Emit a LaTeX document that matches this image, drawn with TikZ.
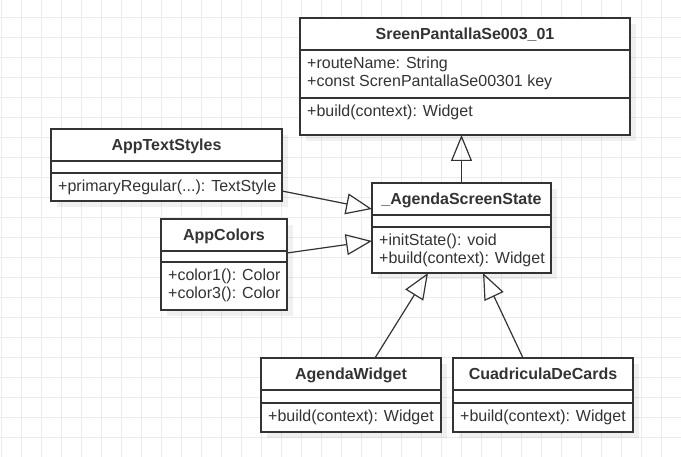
\documentclass[tikz,border=0pt]{standalone}
\usepackage{fontspec}
\setmainfont{Liberation Sans}
\usetikzlibrary{arrows.meta,shadows}
\definecolor{umlline}{HTML}{333333}
\definecolor{gridgray}{HTML}{EBEBEB}

\begin{document}
\begin{tikzpicture}[
		x=1pt, y=-1pt,
		every node/.style={
			font=\fontsize{16}{18.5}\selectfont,
			text=umlline
		},
		classbox/.style={
			draw=umlline, line width=1.2pt, fill=white,
			anchor=north west, inner sep=0pt, outer sep=0pt,
			drop shadow={shadow xshift=6pt, shadow yshift=-6pt, opacity=0.06, fill=black}
		},
		classtitle/.style={font=\fontsize{16}{18.5}\selectfont\bfseries, anchor=base, inner sep=0pt},
		member/.style={anchor=base west, align=left, inner sep=0pt},
		divider/.style={draw=umlline, line width=1.2pt},
		inherit/.style={draw=umlline, line width=1.2pt, -{Triangle[open, length=26pt, width=21pt]}},
		gridline/.style={draw=gridgray, line width=1pt}
		]
		
		\useasboundingbox (0,0) rectangle (681,457);
		
		% background grid
		\foreach \gx in {1,21,...,681} \draw[gridline] (\gx,0) -- (\gx,457);
		\foreach \gy in {18,38,...,457} \draw[gridline] (0,\gy) -- (681,\gy);
		
		% SreenPantallaSe003_01
		\node[classbox, minimum width=330pt, minimum height=117pt] (screen) at (300,18) {};
		\node[classtitle] at ([yshift=-22pt]screen.north) {SreenPantallaSe003\_01};
		\draw[divider] ([yshift=-32pt]screen.north west) -- ([yshift=-32pt]screen.north east);
		\draw[divider] ([yshift=-80pt]screen.north west) -- ([yshift=-80pt]screen.north east);
		% two lines: base is the last line
		\node[member] at ([shift={(7pt,-69pt)}]screen.north west)
		{+routeName: String\\+const ScrenPantallaSe00301 key};
		\node[member] at ([shift={(7pt,-98.5pt)}]screen.north west) {+build(context): Widget};
		
		% AppTextStyles
		\node[classbox, minimum width=231pt, minimum height=72pt] (textstyles) at (51,129) {};
		\node[classtitle] at ([yshift=-22pt]textstyles.north) {AppTextStyles};
		\draw[divider] ([yshift=-32pt]textstyles.north west) -- ([yshift=-32pt]textstyles.north east);
		\draw[divider] ([yshift=-44pt]textstyles.north west) -- ([yshift=-44pt]textstyles.north east);
		\node[member] at ([shift={(7pt,-62.5pt)}]textstyles.north west) {+primaryRegular(...): TextStyle};
		
		% AppColors
		\node[classbox, minimum width=126pt, minimum height=91pt] (colors) at (161,219) {};
		\node[classtitle] at ([yshift=-22pt]colors.north) {AppColors};
		\draw[divider] ([yshift=-32pt]colors.north west) -- ([yshift=-32pt]colors.north east);
		\draw[divider] ([yshift=-43pt]colors.north west) -- ([yshift=-43pt]colors.north east);
		\node[member] at ([shift={(7pt,-80pt)}]colors.north west) {+color1(): Color\\+color3(): Color};
		
		% _AgendaScreenState
		\node[classbox, minimum width=179pt, minimum height=90pt] (state) at (372,183) {};
		\node[classtitle] at ([yshift=-22pt]state.north) {\_AgendaScreenState};
		\draw[divider] ([yshift=-32pt]state.north west) -- ([yshift=-32pt]state.north east);
		\draw[divider] ([yshift=-44pt]state.north west) -- ([yshift=-44pt]state.north east);
		\node[member] at ([shift={(7pt,-81pt)}]state.north west)
		{+initState(): void\\+build(context): Widget};
		
		% AgendaWidget
		\node[classbox, minimum width=180pt, minimum height=74pt] (agenda) at (261,358) {};
		\node[classtitle] at ([yshift=-22pt]agenda.north) {AgendaWidget};
		\draw[divider] ([yshift=-32pt]agenda.north west) -- ([yshift=-32pt]agenda.north east);
		\draw[divider] ([yshift=-45pt]agenda.north west) -- ([yshift=-45pt]agenda.north east);
		\node[member] at ([shift={(7pt,-63.5pt)}]agenda.north west) {+build(context): Widget};
		
		% CuadriculaDeCards
		\node[classbox, minimum width=180pt, minimum height=74pt] (cards) at (453,358) {};
		\node[classtitle] at ([yshift=-22pt]cards.north) {CuadriculaDeCards};
		\draw[divider] ([yshift=-32pt]cards.north west) -- ([yshift=-32pt]cards.north east);
		\draw[divider] ([yshift=-45pt]cards.north west) -- ([yshift=-45pt]cards.north east);
		\node[member] at ([shift={(7pt,-63.5pt)}]cards.north west) {+build(context): Widget};
		
		% generalizations
		\draw[inherit] (state.north) -- (state.north |- screen.south);
		\draw[inherit] ([yshift=-26pt]textstyles.east) -- ([yshift=19pt]state.west);
		\draw[inherit] ([yshift=11.5pt]colors.east) -- ([yshift=-13pt]state.west);
		\draw[inherit] ([xshift=24pt]agenda.north) -- ([xshift=-33.5pt]state.south);
		\draw[inherit] ([xshift=-20pt]cards.north) -- ([xshift=21.5pt]state.south);
		
	\end{tikzpicture}
\end{document}
